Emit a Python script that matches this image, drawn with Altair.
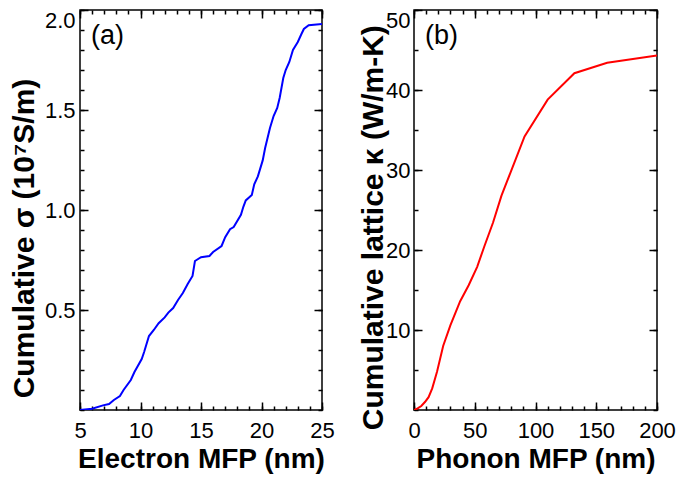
import altair as alt
import pandas as pd

FONT = "Liberation Sans"

# ---- panel (a) data ----
e_mfp = [5.0, 6.0, 6.9, 7.4, 7.8, 8.3, 8.6, 9.2, 9.5, 10.1, 10.3, 10.7, 11.1, 11.5,
         12.0, 12.3, 12.7, 13.1, 13.5, 13.9, 14.3, 14.5, 15.0, 15.7, 16.0, 16.7, 17.0,
         17.4, 17.7, 18.3, 18.5, 18.7, 19.2, 19.4, 19.7, 20.1, 20.3, 20.7, 21.0, 21.3,
         21.5, 21.8, 22.0, 22.3, 22.6, 23.0, 23.3, 23.5, 23.9, 25.0]
e_sigma = [0.0, 0.006, 0.023, 0.03, 0.05, 0.07, 0.10, 0.15, 0.19, 0.255, 0.29, 0.37, 0.40, 0.434,
           0.463, 0.487, 0.51, 0.55, 0.585, 0.63, 0.67, 0.745, 0.764, 0.77, 0.79, 0.82, 0.864,
           0.904, 0.915, 0.976, 1.016, 1.048, 1.075, 1.128, 1.168, 1.248, 1.31, 1.41, 1.47, 1.51,
           1.56, 1.66, 1.70, 1.74, 1.80, 1.84, 1.88, 1.905, 1.924, 1.93]

# ---- panel (b) data ----
p_mfp = [0, 3, 6, 9, 12, 15, 19, 24, 30, 38, 45, 52, 58, 65, 72, 91, 110, 132, 159, 200]
p_kappa = [0, 0.2, 0.5, 1.0, 1.6, 2.7, 4.8, 8.0, 10.6, 13.6, 15.6, 17.9, 20.5, 23.4, 26.8,
           34.2, 38.8, 42.1, 43.4, 44.3]

# ---- axis ticks / labels ----
a_x_labels = [5, 10, 15, 20, 25]
a_y_labels = [0.5, 1.0, 1.5, 2.0]
b_x_labels = [0, 50, 100, 150, 200]
b_y_labels = [10, 20, 30, 40, 50]
a_x_minor = list(range(5, 26, 1))
a_y_minor = [round(i * 0.1, 1) for i in range(0, 21)]
b_x_minor = list(range(0, 201, 10))
b_y_minor = list(range(0, 51, 5))

df_a = pd.DataFrame({"x": e_mfp, "y": e_sigma})
df_b = pd.DataFrame({"x": p_mfp, "y": p_kappa})

MAJ, MIN = 8, 4
H = 400


def tick_axis(orient, values, size):
    return alt.Axis(orient=orient, values=values, tickSize=size, offset=-size,
                    labels=False, domain=False, grid=False, title=None,
                    tickColor="black", tickWidth=1.5)


def panel(df, xdom, ydom, xlab, ylab, xminor, yminor, xmajor, ymajor, color,
          xtitle, ytitle, tag, w, yfmt, ytpad, ylpad, ytitle_frac):
    xs = alt.Scale(domain=xdom, nice=False, zero=False)
    ys = alt.Scale(domain=ydom, nice=False, zero=False)
    base = alt.Chart(df)
    line = base.mark_line(color=color, strokeWidth=2, clip=True).encode(
        x=alt.X("x:Q", scale=xs, axis=alt.Axis(
            orient="bottom", values=xlab, ticks=False, domain=False, grid=False,
            labelFont=FONT, labelFontSize=22, labelColor="black", labelPadding=10,
            labelFlush=False, labelOverlap=False,
            title=xtitle, titleFont=FONT, titleFontSize=28, titleFontWeight="bold",
            titleColor="black", titlePadding=4)),
        y=alt.Y("y:Q", scale=ys, axis=alt.Axis(
            orient="left", values=ylab, format=yfmt, ticks=False, domain=False, grid=False,
            labelFont=FONT, labelFontSize=22, labelColor="black", labelPadding=ylpad,
            labelFlush=True, labelOverlap=False,
            title=ytitle, titleFont=FONT, titleFontSize=30, titleFontWeight="bold",
            titleColor="black", titlePadding=ytpad, titleY=ytitle_frac * H)),
    )
    layers = [line]
    for (xo, yo, xv, yv, sz) in [("bottom", "left", xmajor, ymajor, MAJ),
                                 ("bottom", "left", xminor, yminor, MIN),
                                 ("top", "right", xmajor, ymajor, MAJ),
                                 ("top", "right", xminor, yminor, MIN)]:
        layers.append(base.mark_line(opacity=0).encode(
            x=alt.X("x:Q", scale=xs, axis=tick_axis(xo, xv, sz)),
            y=alt.Y("y:Q", scale=ys, axis=tick_axis(yo, yv, sz)),
        ))
    text = alt.Chart(pd.DataFrame({"t": [tag]})).mark_text(
        font=FONT, fontSize=27, align="left", baseline="alphabetic", color="black"
    ).encode(text="t:N", x=alt.value(11), y=alt.value(34))
    layers.append(text)
    return alt.layer(*layers).resolve_axis(x="independent", y="independent").properties(
        width=w, height=H)


pa = panel(df_a, [5, 25], [0, 2.0], a_x_labels, a_y_labels, a_x_minor, a_y_minor,
           a_x_labels, [0.5, 1.0, 1.5, 2.0], "#0000ff", "Electron MFP (nm)",
           "Cumulative σ (10⁷S/m)", "(a)", 242, ".1f", 5, 5, 0.57)
pb = panel(df_b, [0, 200], [0, 50], b_x_labels, b_y_labels, b_x_minor, b_y_minor,
           b_x_labels, b_y_labels, "#ff0000", "Phonon MFP (nm)",
           "Cumulative lattice κ (W/m-K)", "(b)", 243, "d", -3, 4, 0.543)

chart = alt.hconcat(pa, pb, spacing=22).configure_view(
    stroke="black", strokeWidth=1.5).properties(padding=0, background="white")

chart.save("out.html", embed_options={"renderer": "svg", "actions": False})
